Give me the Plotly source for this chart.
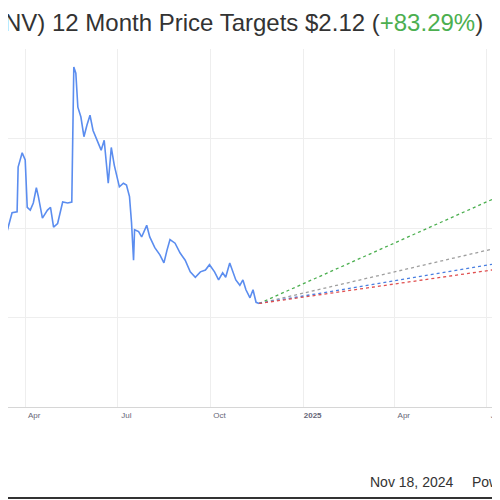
import plotly.graph_objects as go

# price history (date, close)
price_dates = [
    "2024-03-07", "2024-03-09", "2024-03-14", "2024-03-19", "2024-03-24", "2024-03-25",
    "2024-03-29", "2024-04-01", "2024-04-03", "2024-04-06", "2024-04-09", "2024-04-12",
    "2024-04-14", "2024-04-18", "2024-04-23", "2024-04-26", "2024-04-29", "2024-05-03",
    "2024-05-08", "2024-05-13", "2024-05-17", "2024-05-19", "2024-05-21", "2024-05-23",
    "2024-05-26", "2024-05-29", "2024-06-01", "2024-06-04", "2024-06-07", "2024-06-12",
    "2024-06-15", "2024-06-18", "2024-06-22", "2024-06-25", "2024-06-28", "2024-07-03",
    "2024-07-07", "2024-07-10", "2024-07-13", "2024-07-15", "2024-07-17", "2024-07-18",
    "2024-07-22", "2024-07-25", "2024-07-30", "2024-08-02", "2024-08-07", "2024-08-12",
    "2024-08-16", "2024-08-19", "2024-08-22", "2024-08-27", "2024-09-01", "2024-09-06",
    "2024-09-11", "2024-09-16", "2024-09-21", "2024-09-26", "2024-09-30", "2024-10-05",
    "2024-10-09", "2024-10-13", "2024-10-16", "2024-10-20", "2024-10-23", "2024-10-26",
    "2024-10-30", "2024-11-02", "2024-11-05", "2024-11-09", "2024-11-12", "2024-11-15",
    "2024-11-18",
]
price_values = [
    2.26, 2.06, 1.96, 2.17, 2.18, 2.68,
    2.84, 2.76, 2.23, 2.20, 2.28, 2.45,
    2.35, 2.11, 2.20, 2.23, 2.01, 2.05,
    2.29, 2.28, 2.29, 3.80, 3.73, 3.35,
    3.24, 3.02, 3.15, 3.26, 3.09, 2.95,
    2.87, 2.98, 2.50, 2.90, 2.70, 2.46,
    2.50, 2.48, 2.35, 2.06, 1.64, 1.98,
    1.96, 1.90, 2.03, 1.90, 1.78, 1.70,
    1.61, 1.75, 1.87, 1.83, 1.72, 1.64,
    1.51, 1.45, 1.51, 1.53, 1.59, 1.51,
    1.42, 1.50, 1.45, 1.61, 1.51, 1.42,
    1.36, 1.42, 1.31, 1.22, 1.31, 1.17,
    1.157,
]

# 12 month targets (start at last close, end one year later)
target_dates = ["2024-11-18", "2025-11-18"]
target_names = ["High", "Average", "Median", "Low"]
target_ends = [3.00, 2.12, 1.85, 1.75]
target_colors = ["#4caf50", "#9e9e9e", "#4a7fe0", "#e05050"]

tick_vals = ["2024-04-01", "2024-07-01", "2024-10-01", "2025-01-01", "2025-04-01", "2025-07-01"]
tick_text = ["Apr", "Jul", "Oct", "<b>2025</b>", "Apr", "Jul"]

fig = go.Figure()

for name, end, color in zip(target_names, target_ends, target_colors):
    fig.add_trace(go.Scatter(
        x=target_dates, y=[price_values[-1], end], mode="lines", name=name,
        line=dict(color=color, width=1.3, dash="3px,3px"),
    ))

fig.add_trace(go.Scatter(
    x=price_dates, y=price_values, mode="lines", name="Price",
    line=dict(color="#5b8def", width=1.6),
))

fig.update_xaxes(
    range=["2024-03-15", "2025-07-08"], tickvals=tick_vals, ticktext=tick_text,
    showgrid=True, gridcolor="#eeeeee", gridwidth=1,
    showline=True, linecolor="#d6d6d6", ticks="",
    tickfont=dict(size=8, color="#666677", family="Liberation Sans"),
    ticklabelshift=9, zeroline=False,
)
fig.update_yaxes(
    range=[0, 4], dtick=1, showticklabels=False,
    showgrid=True, gridcolor="#eeeeee", gridwidth=1, zeroline=False,
)

fig.add_annotation(
    xref="paper", yref="paper", x=0.981, y=1.075, xanchor="right", yanchor="middle",
    text="(ENV) 12 Month Price Targets $2.12 (<span style='color:#4caf50'>+83.29%</span>)",
    showarrow=False, font=dict(size=24, color="#333333", family="Liberation Sans"),
)
fig.add_annotation(
    xref="paper", yref="paper", x=0.920, y=-0.2095, xanchor="right", yanchor="middle",
    text="Nov 18, 2024", showarrow=False,
    font=dict(size=14, color="#333333", family="Liberation Sans"),
)
fig.add_annotation(
    xref="paper", yref="paper", x=0.951, y=-0.2095, xanchor="left", yanchor="middle",
    text="Powered by", showarrow=False,
    font=dict(size=14, color="#333333", family="Liberation Sans"),
)

# frame edges of the cropped screenshot
fig.add_shape(type="line", xref="paper", yref="paper", x0=1.0062, x1=1.0062, y0=-0.3, y1=1.2,
              line=dict(color="#333333", width=2))
fig.add_shape(type="line", xref="paper", yref="paper", x0=-0.02, x1=1.02, y0=-0.254, y1=-0.254,
              line=dict(color="#333333", width=2))

fig.update_layout(
    width=500, height=500, showlegend=False,
    margin=dict(l=0, r=14, t=41, b=101),
    plot_bgcolor="white", paper_bgcolor="white",
)

fig.write_html("out.html")
